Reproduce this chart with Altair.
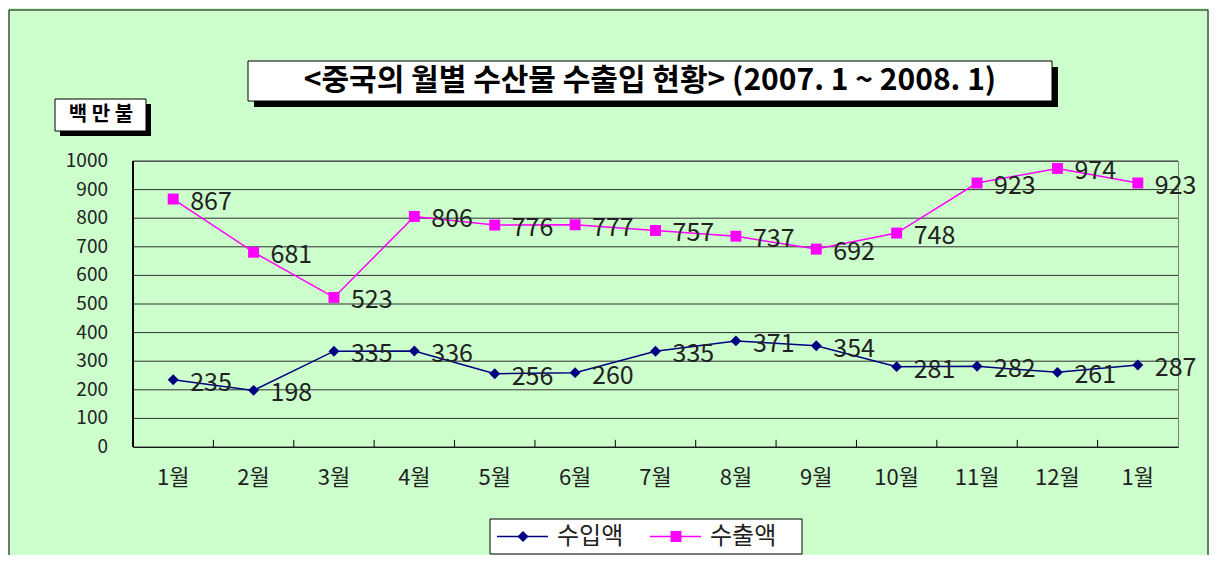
import json
import altair as alt
import pandas as pd

months = ["1월", "2월", "3월", "4월", "5월", "6월", "7월", "8월", "9월", "10월", "11월", "12월", "1월"]
imports = [235, 198, 335, 336, 256, 260, 335, 371, 354, 281, 282, 261, 287]
exports = [867, 681, 523, 806, 776, 777, 757, 737, 692, 748, 923, 974, 923]
series_names = ["수입액", "수출액"]
series_colors = ["#000080", "#FF00FF"]
y_ticks = [0, 100, 200, 300, 400, 500, 600, 700, 800, 900, 1000]
title_text = "<중국의 월별 수산물 수출입 현황> (2007. 1 ~ 2008. 1)"
unit_text = "백 만 불"

rows = []
for i, m in enumerate(months):
    rows.append({"idx": i, "month": m, "series": series_names[0], "kind": series_names[0], "value": imports[i]})
for i, m in enumerate(months):
    rows.append({"idx": i, "month": m, "series": series_names[1], "kind": series_names[1], "value": exports[i]})
df = pd.DataFrame(rows)
n_b = len(months) - 1
ticks_df = pd.DataFrame({"idx": list(range(1, len(months))), "y0": [0] * n_b, "y1": [25] * n_b})
ygrid_df = pd.DataFrame({"v": y_ticks})

FONT = "Noto Sans CJK KR"
W, H = 1045, 286
PAD_L, PAD_T = 125, 153
TOTAL_W, TOTAL_H = 1201, 547

label_expr = json.dumps(months, ensure_ascii=False) + "[datum.value]"

xscale = alt.Scale(type="band", paddingInner=0, paddingOuter=0, domain=list(range(len(months))))
yscale = alt.Scale(domain=[0, 1000], nice=False)
xenc = alt.X(
    "idx:O", scale=xscale,
    axis=alt.Axis(title=None, labelExpr=label_expr, ticks=False, domainColor="black",
                  labelFontSize=22, labelPadding=20, labelAngle=0, grid=False,
                  labelColor="#222222", labelFont=FONT),
)
yenc = alt.Y("value:Q", scale=yscale, axis=None)
cscale = alt.Scale(domain=series_names, range=series_colors)

base = alt.Chart(df)

# y grid + labels
ygrid = alt.Chart(ygrid_df).mark_rule(color="#303030", strokeWidth=1).encode(
    y=alt.Y("v:Q", scale=yscale, axis=None), x=alt.value(0), x2=alt.value(W)
)
ylabels = alt.Chart(ygrid_df).mark_text(align="right", baseline="middle", fontSize=19, font=FONT,
                                        color="#222222").encode(
    y=alt.Y("v:Q", scale=yscale, axis=None), x=alt.value(-25), text=alt.Text("v:Q", format="d")
)
yaxis_line = alt.Chart(ygrid_df).mark_rule(color="black", strokeWidth=1).encode(
    x=alt.value(0), y=alt.value(0), y2=alt.value(H)
)

lines = base.mark_line(strokeWidth=1.5).encode(
    x=xenc, y=yenc, color=alt.Color("series:N", scale=cscale, legend=None)
)
points = base.mark_point(filled=True, size=120, opacity=1).encode(
    x=xenc, y=yenc,
    color=alt.Color("series:N", scale=cscale, legend=None),
    shape=alt.Shape("kind:N", scale=alt.Scale(domain=series_names, range=["diamond", "square"]), legend=None),
)
labels = base.mark_text(align="left", baseline="middle", dx=17, dy=3, fontSize=25,
                        color="#222222", font=FONT).encode(
    x=xenc, y=yenc, text="value:Q"
)
tick_rules = alt.Chart(ticks_df).mark_rule(color="black", strokeWidth=1).encode(
    x=alt.X("idx:O", bandPosition=0, scale=xscale), y=alt.Y("y0:Q", scale=yscale, axis=None), y2="y1:Q"
)

one = pd.DataFrame({"a": [0]})
outer = alt.Chart(one).mark_rect(fill=None, stroke="black", strokeWidth=1).encode(
    x=alt.value(-124), x2=alt.value(TOTAL_W - PAD_L - 1), y=alt.value(-151), y2=alt.value(TOTAL_H - PAD_T + 20)
)
title_shadow = alt.Chart(one).mark_rect(fill="black").encode(
    x=alt.value(121), x2=alt.value(925), y=alt.value(-94), y2=alt.value(-54)
)
title_box = alt.Chart(one).mark_rect(fill="white", stroke="black", strokeWidth=1).encode(
    x=alt.value(115), x2=alt.value(919), y=alt.value(-100), y2=alt.value(-60)
)
title_txt = alt.Chart(one).mark_text(fontSize=30, fontWeight="bold", font=FONT, color="black",
                                     align="center", baseline="middle").encode(
    x=alt.value(517), y=alt.value(-80), text=alt.value(title_text)
)
unit_shadow = alt.Chart(one).mark_rect(fill="black").encode(
    x=alt.value(-73), x2=alt.value(18), y=alt.value(-57), y2=alt.value(-25)
)
unit_box = alt.Chart(one).mark_rect(fill="white", stroke="black", strokeWidth=1).encode(
    x=alt.value(-78), x2=alt.value(13), y=alt.value(-62), y2=alt.value(-30)
)
unit_txt = alt.Chart(one).mark_text(fontSize=20, fontWeight="bold", font=FONT, color="black",
                                    align="center", baseline="middle").encode(
    x=alt.value(-32), y=alt.value(-46), text=alt.value(unit_text)
)

# legend (drawn box with line + marker samples)
LX, LY = 357, 358          # legend box top-left, plot coords
leg_box = alt.Chart(one).mark_rect(fill="white", stroke="black", strokeWidth=1).encode(
    x=alt.value(LX), x2=alt.value(LX + 312), y=alt.value(LY), y2=alt.value(LY + 35)
)
leg_items = []
offsets = [7, 160]
leg_shapes = ["diamond", "square"]
for name, col, shp, off in zip(series_names, series_colors, leg_shapes, offsets):
    cy = LY + 17.5
    leg_items.append(alt.Chart(one).mark_rule(color=col, strokeWidth=1.5).encode(
        x=alt.value(LX + off), x2=alt.value(LX + off + 51), y=alt.value(cy)))
    leg_items.append(alt.Chart(one).mark_point(filled=True, size=120, color=col, shape=shp, opacity=1).encode(
        x=alt.value(LX + off + 26), y=alt.value(cy)))
    leg_items.append(alt.Chart(one).mark_text(align="left", baseline="middle", fontSize=24, font=FONT,
                                              color="#222222").encode(
        x=alt.value(LX + off + 60), y=alt.value(cy), text=alt.value(name)))

chart = alt.layer(
    outer, title_shadow, title_box, title_txt, unit_shadow, unit_box, unit_txt,
    ygrid, ylabels, yaxis_line,
    lines, points, labels, tick_rules, leg_box, *leg_items,
).resolve_scale(shape="independent").properties(
    width=W, height=H,
    autosize=alt.AutoSizeParams(type="none"),
    padding={"left": PAD_L, "top": PAD_T, "right": TOTAL_W - PAD_L - W, "bottom": TOTAL_H - PAD_T - H},
    background="#CCFFCC",
).configure_view(stroke="#808080", strokeWidth=1)

chart.save("out.html", embed_options={"renderer": "svg", "actions": False})
